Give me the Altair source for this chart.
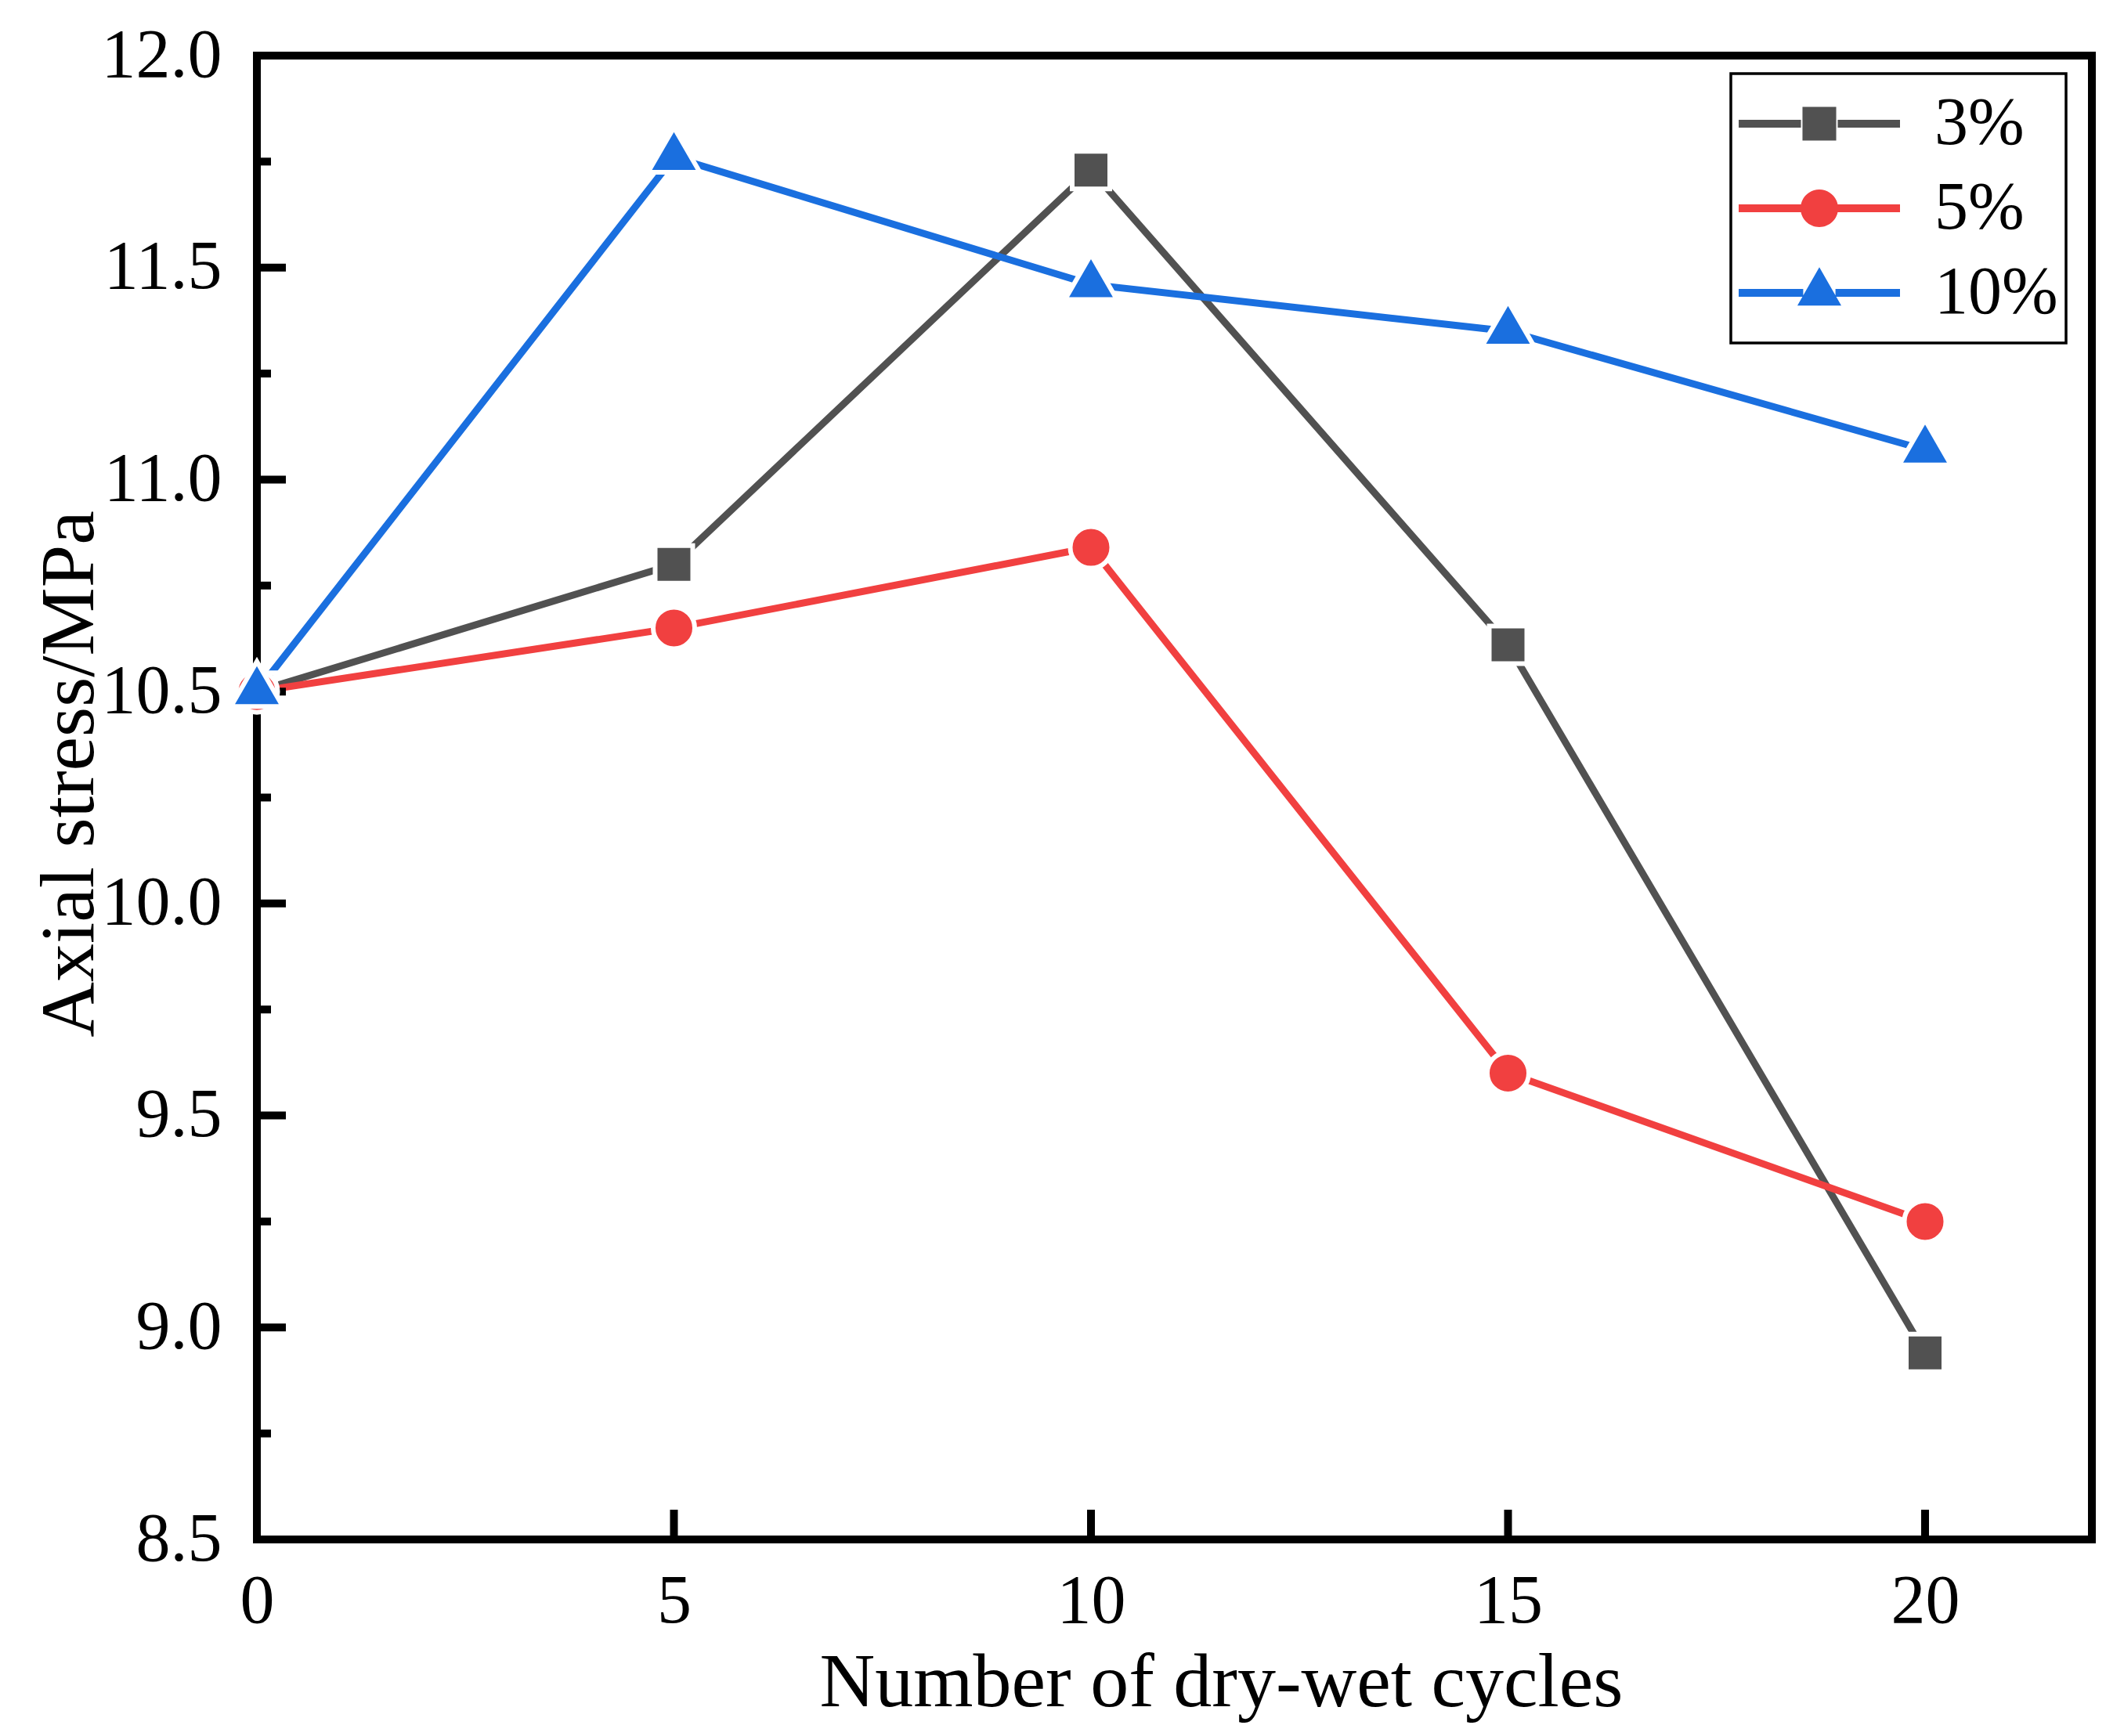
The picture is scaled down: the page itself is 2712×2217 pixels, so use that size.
import altair as alt
import pandas as pd

# data
cycles = [0, 5, 10, 15, 20]
series = ["3%", "5%", "10%"]
stress_3 = [10.50, 10.80, 11.73, 10.61, 8.94]
stress_5 = [10.50, 10.65, 10.84, 9.60, 9.25]
stress_10 = [10.50, 11.76, 11.46, 11.35, 11.07]
colors = ["#515151", "#F14040", "#1A6FDF"]

y_major = [8.5, 9.0, 9.5, 10.0, 10.5, 11.0, 11.5, 12.0]
y_minor = [8.75, 9.25, 9.75, 10.25, 10.75, 11.25, 11.75]
x_major = [0, 5, 10, 15, 20]

rows = []
for name, vals in zip(series, [stress_3, stress_5, stress_10]):
    for c, v in zip(cycles, vals):
        rows.append({"cycles": c, "stress": v, "series": name})
df = pd.DataFrame(rows)

W, H = 2343, 1895
FONT = "Liberation Serif"

xscale = alt.Scale(domain=[0, 22], nice=False, zero=False)
yscale = alt.Scale(domain=[8.5, 12], nice=False, zero=False)

# plot markers (unit = half of sqrt(size)), slightly oversized for the white halo
marker_paths = [
    "M-0.724,-0.724H0.724V0.724H-0.724Z",
    "M-0.8,0A0.8,0.8 0 1 1 0.8,0A0.8,0.8 0 1 1 -0.8,0Z",
    "M0,-1.155L1,0.577L-1,0.577Z",
]
# legend glyphs: line - marker - line
legend_paths = [
    "M-1,-0.0485H-0.228V0.0485H-1Z M-0.209,-0.209H0.209V0.209H-0.209Z M0.228,-0.0485H1V0.0485H0.228Z",
    "M-1,-0.0485H-0.2V0.0485H-1Z M-0.233,0A0.233,0.233 0 1 1 0.233,0A0.233,0.233 0 1 1 -0.233,0Z M0.2,-0.0485H1V0.0485H0.2Z",
    "M-1,-0.0485H-0.2V0.0485H-1Z M0,-0.317L0.272,0.158L-0.272,0.158Z M0.2,-0.0485H1V0.0485H0.2Z",
]

base = alt.Chart(df)

xaxis = alt.Axis(values=x_major, ticks=False, domain=False, grid=False, labelFlush=False,
                 labelFontSize=88, labelPadding=35,
                 titleFontSize=98, titleX=1231, titleY=212,
                 titleBaseline="alphabetic", titleAlign="center")
yaxis = alt.Axis(values=y_major, format=".1f", ticks=False, domain=False, labelFlush=False,
                 grid=False, labelFontSize=88, labelPadding=45,
                 titleFontSize=98, titleX=-210, titleY=917, titleAngle=270,
                 titleBaseline="alphabetic", titleAlign="center")
xtitle = "Number of dry-wet cycles"
ytitle = "Axial stress/MPa"

color_nolegend = alt.Color("series:N", scale=alt.Scale(domain=series, range=colors), legend=None)

lines = base.mark_line(strokeWidth=9, strokeCap="round").encode(
    x=alt.X("cycles:Q", scale=xscale, axis=xaxis, title=xtitle),
    y=alt.Y("stress:Q", scale=yscale, axis=yaxis, title=ytitle),
    color=color_nolegend, detail="series:N"
)

points = base.mark_point(filled=True, size=4396, opacity=1, stroke="white", strokeWidth=6).encode(
    x=alt.X("cycles:Q", scale=xscale, axis=xaxis, title=xtitle),
    y=alt.Y("stress:Q", scale=yscale, axis=yaxis, title=ytitle),
    color=color_nolegend,
    shape=alt.Shape("series:N", scale=alt.Scale(domain=series, range=marker_paths), legend=None),
)

leg = dict(title=None, orient="none", legendX=1882, legendY=23, padding=10,
           strokeColor="black", symbolSize=42436, symbolStrokeWidth=0, symbolOffset=0,
           labelFontSize=86, labelOffset=44, labelLimit=400, rowPadding=0, clipHeight=108,
           labelColor="black", labelFont=FONT)

legend_layer = base.transform_filter("false").mark_point(filled=True, opacity=1).encode(
    x=alt.X("cycles:Q", scale=xscale, axis=xaxis, title=xtitle),
    y=alt.Y("stress:Q", scale=yscale, axis=yaxis, title=ytitle),
    color=alt.Color("series:N", scale=alt.Scale(domain=series, range=colors), legend=alt.Legend(**leg)),
    shape=alt.Shape("series:N", scale=alt.Scale(domain=series, range=legend_paths), legend=alt.Legend(**leg)),
)

# inward ticks
ymaj = alt.Chart(pd.DataFrame({"stress": y_major})).mark_rule(color="black", strokeWidth=10).encode(
    y=alt.Y("stress:Q", scale=yscale, axis=yaxis, title=ytitle), x=alt.value(0), x2=alt.value(37))
ymin = alt.Chart(pd.DataFrame({"stress": y_minor})).mark_rule(color="black", strokeWidth=10).encode(
    y=alt.Y("stress:Q", scale=yscale, axis=yaxis, title=ytitle), x=alt.value(0), x2=alt.value(18))
xmaj = alt.Chart(pd.DataFrame({"cycles": x_major})).mark_rule(color="black", strokeWidth=10).encode(
    x=alt.X("cycles:Q", scale=xscale, axis=xaxis, title=xtitle), y=alt.value(H), y2=alt.value(H - 38))

chart = alt.layer(lines, ymaj, ymin, xmaj, points, legend_layer).resolve_scale(
    color="independent", shape="independent"
).properties(
    width=W, height=H,
    autosize=alt.AutoSizeParams(type="none"),
    padding={"left": 320, "top": 63, "right": 33, "bottom": 243},
).configure(
    font=FONT,
).configure_view(
    stroke="black", strokeWidth=10, fill="white"
).configure_axis(
    labelColor="black", titleColor="black", titleFontWeight="normal", labelFont=FONT, titleFont=FONT
).configure_legend(
    strokeWidth=3.5
)

chart.save("out.html", embed_options={"renderer": "svg", "actions": False})
